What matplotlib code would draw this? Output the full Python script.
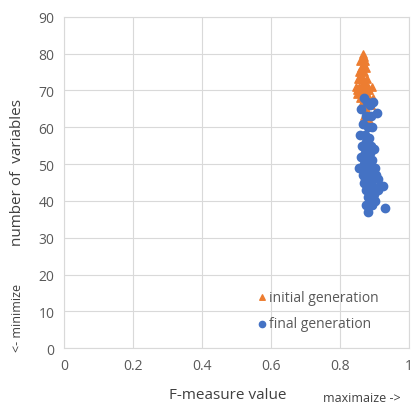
import numpy as np
import matplotlib.pyplot as plt

plt.rcParams['font.family'] = ['Open Sans', 'DejaVu Sans']

# initial generation (orange triangles)
init_x = [0.866, 0.868, 0.858, 0.872, 0.866, 0.861, 0.875, 0.856, 0.869, 0.864,
          0.852, 0.878, 0.860, 0.871, 0.866, 0.855, 0.880, 0.862, 0.874, 0.858,
          0.868, 0.883, 0.850, 0.865, 0.877, 0.870, 0.859, 0.884, 0.872, 0.866,
          0.878, 0.887, 0.862, 0.876, 0.881, 0.869, 0.885, 0.873, 0.895, 0.846,
          0.892, 0.848, 0.889, 0.880]
init_y = [80, 79, 78, 78, 77, 76, 76, 75, 75, 74,
          73, 73, 73, 72, 72, 71, 71, 71, 70, 70,
          70, 70, 70, 69, 69, 69, 68, 68, 68, 67,
          67, 66, 66, 65, 64, 63, 62, 70, 68, 71,
          71, 69, 66, 63]

# final generation (blue circles)
final_x = [0.870, 0.878, 0.886, 0.895, 0.906, 0.862, 0.874, 0.889, 0.866, 0.880,
           0.893, 0.858, 0.871, 0.884, 0.876, 0.890, 0.864, 0.881, 0.897, 0.873,
           0.886, 0.860, 0.877, 0.892, 0.869, 0.883, 0.856, 0.874, 0.889, 0.900,
           0.866, 0.880, 0.894, 0.872, 0.887, 0.903, 0.878, 0.892, 0.868, 0.884,
           0.898, 0.874, 0.889, 0.909, 0.880, 0.896, 0.915, 0.925, 0.886, 0.902,
           0.876, 0.893, 0.881, 0.910, 0.881, 0.930]
final_y = [68, 67, 66, 67, 64, 65, 63, 63, 61, 60,
           60, 58, 58, 57, 56, 55, 55, 54, 54, 53,
           53, 52, 51, 51, 50, 50, 49, 48, 48, 49,
           47, 47, 46, 46, 45, 47, 44, 44, 45, 43,
           42, 43, 42, 43, 41, 41, 44, 44, 40, 40,
           39, 39, 45, 46, 37, 38]

fig = plt.figure(figsize=(4.14, 4.06), dpi=100)
ax = fig.add_axes([0.155, 0.140, 0.833, 0.816])

ax.scatter(init_x, init_y, marker='^', s=28, color='#ED7D31', zorder=3,
           label='initial generation')
ax.scatter(final_x, final_y, marker='o', s=36, color='#4472C4', zorder=3,
           label='final generation')

ax.set_xlim(0, 1)
ax.set_ylim(0, 90)
ax.set_xticks(np.arange(0, 1.01, 0.2))
ax.set_xticklabels(['0', '0.2', '0.4', '0.6', '0.8', '1'])
ax.set_yticks(np.arange(0, 91, 10))
ax.grid(True, color='#d9d9d9', linewidth=0.8)
ax.set_axisbelow(True)
for sp in ax.spines.values():
    sp.set_color('#d9d9d9')
ax.tick_params(length=0, labelsize=10, colors='#595959', pad=7)

fig.text(0.55, 0.025, 'F-measure value', ha='center', va='center',
         fontsize=11, color='#404040')
fig.text(0.875, 0.018, 'maximaize ->', ha='center', va='center',
         fontsize=9, color='#404040')
fig.text(0.043, 0.575, 'number of  variables', rotation=90, va='center',
         ha='center', fontsize=11, color='#404040')
fig.text(0.043, 0.217, '<- minimize', rotation=90, va='center', ha='center',
         fontsize=9, color='#404040')

ax.legend(loc='lower left', bbox_to_anchor=(0.545, 0.042), frameon=False,
          fontsize=10, handletextpad=0.05, borderaxespad=0, borderpad=0.2,
          labelspacing=0.85, handlelength=1.0, markerscale=0.75,
          labelcolor='#595959')

fig.savefig('out.png')
